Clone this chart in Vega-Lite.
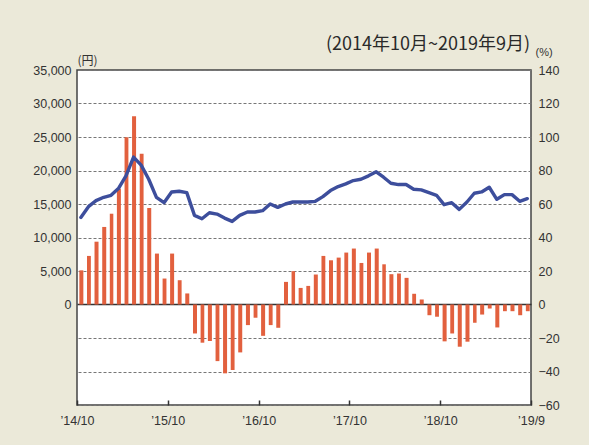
{
  "$schema": "https://vega.github.io/schema/vega-lite/v6.json",
  "autosize": {"type": "none"},
  "width": 454,
  "height": 335,
  "padding": {"left": 77, "top": 70, "right": 58, "bottom": 40},
  "background": "#ebe9d9",
  "config": {
    "view": {"stroke": "#444", "strokeWidth": 1.5, "fill": "white"},
    "axis": {"labelFont": "Liberation Sans", "labelColor": "#333", "domain": false, "titleColor": "#333"}
  },
  "title": {
    "text": "(2014年10月~2019年9月)",
    "anchor": "end",
    "frame": "group",
    "font": "Noto Sans CJK JP",
    "fontSize": 18,
    "fontWeight": "normal",
    "color": "#2a2a2a",
    "offset": -8,
    "dx": -1
  },
  "data": {
    "values": [
      {"month": "2014-10", "yen": 13000, "pct": 20.4},
      {"month": "2014-11", "yen": 14600, "pct": 29.0},
      {"month": "2014-12", "yen": 15500, "pct": 37.5},
      {"month": "2015-01", "yen": 16000, "pct": 46.3},
      {"month": "2015-02", "yen": 16300, "pct": 54.2},
      {"month": "2015-03", "yen": 17300, "pct": 69.1},
      {"month": "2015-04", "yen": 19200, "pct": 99.9},
      {"month": "2015-05", "yen": 22000, "pct": 112.4},
      {"month": "2015-06", "yen": 20800, "pct": 90.0},
      {"month": "2015-07", "yen": 18700, "pct": 57.6},
      {"month": "2015-08", "yen": 16000, "pct": 30.4},
      {"month": "2015-09", "yen": 15200, "pct": 15.5},
      {"month": "2015-10", "yen": 16800, "pct": 30.4},
      {"month": "2015-11", "yen": 16900, "pct": 14.5},
      {"month": "2015-12", "yen": 16700, "pct": 6.6},
      {"month": "2016-01", "yen": 13300, "pct": -17.3},
      {"month": "2016-02", "yen": 12800, "pct": -22.8},
      {"month": "2016-03", "yen": 13700, "pct": -21.8},
      {"month": "2016-04", "yen": 13500, "pct": -33.8},
      {"month": "2016-05", "yen": 12900, "pct": -41.1},
      {"month": "2016-06", "yen": 12400, "pct": -39.1},
      {"month": "2016-07", "yen": 13300, "pct": -28.6},
      {"month": "2016-08", "yen": 13800, "pct": -12.3},
      {"month": "2016-09", "yen": 13800, "pct": -7.9},
      {"month": "2016-10", "yen": 14000, "pct": -18.7},
      {"month": "2016-11", "yen": 15000, "pct": -12.3},
      {"month": "2016-12", "yen": 14500, "pct": -13.9},
      {"month": "2017-01", "yen": 15000, "pct": 13.5},
      {"month": "2017-02", "yen": 15300, "pct": 19.9},
      {"month": "2017-03", "yen": 15300, "pct": 9.9},
      {"month": "2017-04", "yen": 15300, "pct": 11.1},
      {"month": "2017-05", "yen": 15400, "pct": 17.9},
      {"month": "2017-06", "yen": 16100, "pct": 29.0},
      {"month": "2017-07", "yen": 17000, "pct": 26.4},
      {"month": "2017-08", "yen": 17600, "pct": 28.0},
      {"month": "2017-09", "yen": 18000, "pct": 31.0},
      {"month": "2017-10", "yen": 18500, "pct": 33.4},
      {"month": "2017-11", "yen": 18700, "pct": 24.8},
      {"month": "2017-12", "yen": 19200, "pct": 31.0},
      {"month": "2018-01", "yen": 19800, "pct": 33.4},
      {"month": "2018-02", "yen": 19000, "pct": 24.0},
      {"month": "2018-03", "yen": 18100, "pct": 18.1},
      {"month": "2018-04", "yen": 17900, "pct": 18.5},
      {"month": "2018-05", "yen": 17900, "pct": 15.9},
      {"month": "2018-06", "yen": 17200, "pct": 6.4},
      {"month": "2018-07", "yen": 17100, "pct": 3.0},
      {"month": "2018-08", "yen": 16700, "pct": -6.4},
      {"month": "2018-09", "yen": 16300, "pct": -7.3},
      {"month": "2018-10", "yen": 14900, "pct": -22.0},
      {"month": "2018-11", "yen": 15200, "pct": -17.3},
      {"month": "2018-12", "yen": 14200, "pct": -25.2},
      {"month": "2019-01", "yen": 15300, "pct": -22.2},
      {"month": "2019-02", "yen": 16600, "pct": -10.9},
      {"month": "2019-03", "yen": 16800, "pct": -6.0},
      {"month": "2019-04", "yen": 17500, "pct": -2.4},
      {"month": "2019-05", "yen": 15700, "pct": -13.7},
      {"month": "2019-06", "yen": 16400, "pct": -4.0},
      {"month": "2019-07", "yen": 16400, "pct": -4.0},
      {"month": "2019-08", "yen": 15400, "pct": -6.4},
      {"month": "2019-09", "yen": 15800, "pct": -4.0}
    ]
  },
  "encoding": {
    "x": {
      "field": "month",
      "timeUnit": "utcyearmonth",
      "type": "temporal",
      "scale": {
        "type": "utc",
        "domain": [
          {"year": 2014, "month": 10, "date": 1, "utc": true},
          {"year": 2019, "month": 10, "date": 1, "utc": true}
        ]
      },
      "axis": {
        "values": [
          {"year": 2014, "month": 10, "date": 1, "utc": true},
          {"year": 2015, "month": 10, "date": 1, "utc": true},
          {"year": 2016, "month": 10, "date": 1, "utc": true},
          {"year": 2017, "month": 10, "date": 1, "utc": true},
          {"year": 2018, "month": 10, "date": 1, "utc": true},
          {"year": 2019, "month": 10, "date": 1, "utc": true}
        ],
        "labelExpr": "utcyear(datum.value) == 2019 ? '’19/9' : utcFormat(datum.value, '’%y/%m')",
        "title": null,
        "grid": false,
        "ticks": true,
        "offset": -5,
        "tickSize": 5,
        "tickColor": "#333",
        "tickWidth": 1.5,
        "labelPadding": 9,
        "labelFontSize": 12.5,
        "labelFlush": false,
        "labelOverlap": false
      }
    }
  },
  "layer": [
    {
      "mark": {"type": "bar", "color": "#e2603e", "width": {"band": 0.65}},
      "encoding": {
        "y": {
          "field": "pct",
          "type": "quantitative",
          "scale": {"domain": [-60, 140], "nice": false, "zero": false},
          "axis": {
            "orient": "right",
            "values": [-60, -40, -20, 0, 20, 40, 60, 80, 100, 120, 140],
            "labelOverlap": false,
            "grid": true,
            "gridDash": {"condition": {"test": "datum.value === 0", "value": []}, "value": [3, 2]},
            "gridColor": {"condition": {"test": "datum.value === 0", "value": "#333"}, "value": "#777"},
            "gridWidth": {"condition": {"test": "datum.value === 0", "value": 1.3}, "value": 1},
            "ticks": false,
            "labelPadding": 7,
            "labelFontSize": 12.5,
            "title": "(%)",
            "titleAngle": 0,
            "titleAlign": "left",
            "titleBaseline": "bottom",
            "titleX": 4,
            "titleY": -13,
            "titleFont": "Liberation Sans",
            "titleFontSize": 11,
            "titleFontWeight": "normal"
          }
        }
      }
    },
    {
      "mark": {"type": "line", "color": "#3d4e9c", "strokeWidth": 3.4, "strokeJoin": "round", "strokeCap": "round"},
      "encoding": {
        "x": {"field": "month", "timeUnit": "utcyearmonth", "type": "temporal", "bandPosition": 0.5},
        "y": {
          "field": "yen",
          "type": "quantitative",
          "scale": {"domain": [-15000, 35000], "nice": false, "zero": false},
          "axis": {
            "orient": "left",
            "values": [0, 5000, 10000, 15000, 20000, 25000, 30000, 35000],
            "format": ",d",
            "labelOverlap": false,
            "grid": false,
            "ticks": false,
            "labelPadding": 6,
            "labelFontSize": 12.5,
            "title": "(円)",
            "titleAngle": 0,
            "titleAlign": "left",
            "titleBaseline": "bottom",
            "titleX": 0,
            "titleY": -3,
            "titleFont": "Noto Sans CJK JP",
            "titleFontSize": 12,
            "titleFontWeight": "normal"
          }
        }
      }
    }
  ],
  "resolve": {"scale": {"y": "independent"}}
}
